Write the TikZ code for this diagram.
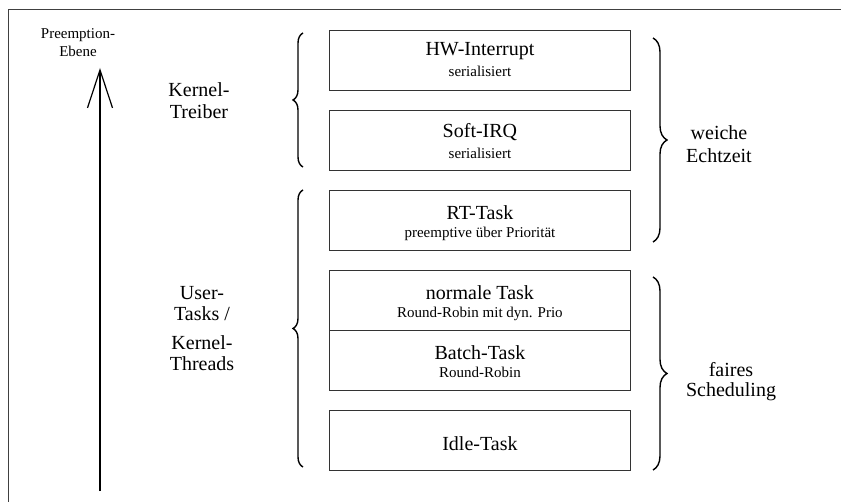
\documentclass[tikz,border=0pt]{standalone}
\usepackage{fontspec}
\setmainfont{Liberation Serif}
\usetikzlibrary{decorations.pathreplacing,arrows.meta,calc}
\tikzset{
  taskbox/.style={draw=black!80, line width=0.9pt, minimum width=301pt, minimum height=60pt, inner sep=0pt, anchor=north west},
  big/.style={font=\fontsize{20}{22}\selectfont, anchor=base, inner sep=0pt},
  small/.style={font=\fontsize{15}{17}\selectfont, anchor=base, inner sep=0pt},
  lbrace/.style={decorate, decoration={brace, amplitude=10pt}, line width=1.4pt},
  rbrace/.style={decorate, decoration={brace, amplitude=14pt}, line width=1.4pt},
  frame/.style={draw=black!75, line width=1.5pt},
}
\begin{document}
\begin{tikzpicture}[x=1pt,y=-1pt]
\useasboundingbox (0,0) rectangle (841,502);
% frame (top and left)
\coordinate (fbl) at (8.5,502);
\coordinate (ftl) at (8.5,9.5);
\coordinate (ftr) at (841,9.5);
\draw[frame] (fbl) -- (ftl) -- (ftr);

% boxes
\node[taskbox] (hw) at (329,30) {};
\node[taskbox] (soft) at (329,110) {};
\node[taskbox] (rt) at (329,190) {};
\node[taskbox] (norm) at (329,270) {};
\node[taskbox] (batch) at (329,330) {};
\node[taskbox] (idle) at (329,410) {};

\node[big] (hwt) at ($(hw.north)+(0,26)$) {HW-Interrupt};
\node[small] (hws) at ($(hw.north)+(0,47)$) {serialisiert};
\node[big] (softt) at ($(soft.north)+(0,28)$) {Soft-IRQ};
\node[small] (softs) at ($(soft.north)+(0,49)$) {serialisiert};
\node[big] (rtt) at ($(rt.north)+(0,30)$) {RT-Task};
\node[small] (rts) at ($(rt.north)+(0,48)$) {preemptive über Priorität};
\node[big] (normt) at ($(norm.north)+(0,30)$) {normale Task};
\node[small] (norms) at ($(norm.north)+(0,48)$) {Round-Robin mit dyn. Prio};
\node[big] (batcht) at ($(batch.north)+(0,30)$) {Batch-Task};
\node[small] (batchs) at ($(batch.north)+(0,48)$) {Round-Robin};
\node[big] (idlet) at ($(idle.north)+(0,41)$) {Idle-Task};

% left braces
\coordinate (kb1) at (303,167);
\coordinate (kb2) at (303,33);
\draw[lbrace] (kb1) -- (kb2);
\coordinate (ub1) at (303,467);
\coordinate (ub2) at (303,190);
\draw[lbrace] (ub1) -- (ub2);

% right braces
\coordinate (wb1) at (653,38);
\coordinate (wb2) at (653,242);
\draw[rbrace] (wb1) -- (wb2);
\coordinate (fb1) at (653,277);
\coordinate (fb2) at (653,470);
\draw[rbrace] (fb1) -- (fb2);

% left labels
\node[big] (k1) at (199,97) {Kernel-};
\node[big] (k2) at (199,119) {Treiber};
\node[big] (u1) at (202,300) {User-};
\node[big] (u2) at (202,321) {Tasks /};
\node[big] (u3) at (202,350) {Kernel-};
\node[big] (u4) at (202,371) {Threads};

% right labels
\node[big] (w1) at (719,140) {weiche};
\node[big] (w2) at (719,163) {Echtzeit};
\node[big] (f1) at (731,377) {faires};
\node[big] (f2) at (731,397) {Scheduling};

% preemption arrow
\node[small] (p1) at (78,39) {Preemption-};
\node[small] (p2) at (78,57) {Ebene};
\coordinate (abot) at (100,491);
\coordinate (atop) at (100,68);
\draw[line width=1.2pt, -{Straight Barb[length=38pt,width=25pt,line width=1.2pt]}] (abot) -- (atop);
\end{tikzpicture}
\end{document}
